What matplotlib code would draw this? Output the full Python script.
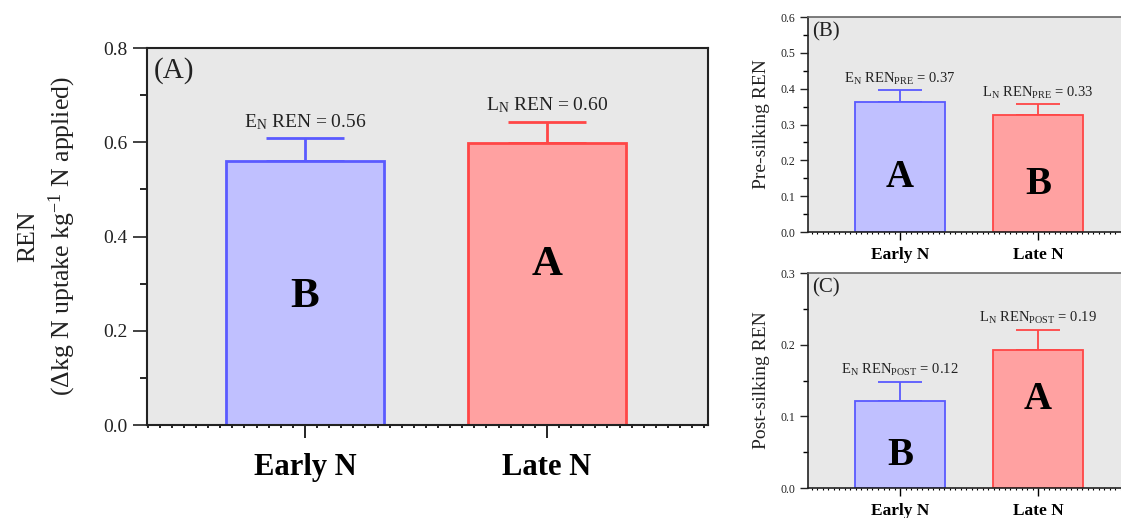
import matplotlib
matplotlib.use("Agg")
import matplotlib.pyplot as plt
from matplotlib.ticker import MultipleLocator

plt.rcParams['font.family'] = ['Liberation Serif', 'DejaVu Serif']
plt.rcParams['mathtext.fontset'] = 'custom'
plt.rcParams['mathtext.rm'] = 'Liberation Serif'
plt.rcParams['mathtext.it'] = 'Liberation Serif:italic'
plt.rcParams['mathtext.bf'] = 'Liberation Serif:bold'

# data
groups = ['Early N', 'Late N']

ren_mean = [0.560, 0.598]
ren_err = [0.049, 0.046]
ren_text = ['0.56', '0.60']
ren_letters = ['B', 'A']
ren_letter_y = [0.272, 0.34]

pre_mean = [0.364, 0.327]
pre_err = [0.032, 0.030]
pre_text = ['0.37', '0.33']
pre_letters = ['A', 'B']
pre_letter_y = [0.153, 0.134]

post_mean = [0.121, 0.193]
post_err = [0.027, 0.028]
post_text = ['0.12', '0.19']
post_letters = ['B', 'A']
post_letter_y = [0.046, 0.123]

prefix = ['E', 'L']
fills = ['#c0c0ff', '#ffa1a1']
edges = ['#5a5aff', '#ff4646']
BG = '#e8e8e8'


def draw_panel(ax, means, errs, texts, letters, letter_y, sub, tag, ylim, ymaj,
               xlim, big):
    if big:
        lw, cap, fs_ann, fs_let, fs_tag, fs_tick, fs_x = 2.0, 28, 14, 31, 21, 14, 22
        off = 8
    else:
        lw, cap, fs_ann, fs_let, fs_tag, fs_tick, fs_x = 1.3, 16, 10.5, 28, 15, 8.5, 12.5
        off = 5.5
    ax.set_facecolor(BG)
    x = list(range(len(means)))
    width = 0.655
    for i in x:
        ax.bar(i, means[i], width=width, color=fills[i], edgecolor=edges[i],
               linewidth=lw, zorder=3)
        ax.errorbar(i, means[i], yerr=[[0], [errs[i]]], color=edges[i],
                    capsize=cap, elinewidth=lw, capthick=lw, zorder=2)
        if sub:
            s = r'%s$_{\mathregular{N}}$ REN$_{\mathregular{%s}}$ = %s' % (prefix[i], sub, texts[i])
        else:
            s = r'%s$_{\mathregular{N}}$ REN = %s' % (prefix[i], texts[i])
        ax.annotate(s, (i, means[i] + errs[i]), xytext=(0, off),
                    textcoords='offset points', ha='center', va='baseline',
                    fontsize=fs_ann, color='#222222')
        ax.text(i, letter_y[i], letters[i], ha='center', va='center',
                fontsize=fs_let, fontweight='bold', zorder=4)
    ax.text(0.012, 0.975, tag, transform=ax.transAxes, ha='left', va='top',
            fontsize=fs_tag, color='#222222')
    ax.set_ylim(ylim)
    ax.set_xlim(xlim)
    ax.yaxis.set_major_locator(MultipleLocator(ymaj))
    ax.yaxis.set_minor_locator(MultipleLocator(ymaj / 2))
    ax.xaxis.set_minor_locator(MultipleLocator(0.05 if big else 0.04))
    ax.set_xticks(x)
    ax.set_xticklabels(groups, fontsize=fs_x, fontweight='bold')
    if big:
        ax.tick_params(axis='y', which='major', length=10, width=1.2, pad=4,
                       labelsize=fs_tick, colors='#222222')
        ax.tick_params(axis='y', which='minor', length=5, width=1.2)
        ax.tick_params(axis='x', which='major', length=9, width=1.2, pad=11)
        ax.tick_params(axis='x', which='minor', length=2, width=1.2)
    else:
        ax.tick_params(axis='y', which='major', length=6, width=1.0, pad=3,
                       labelsize=fs_tick, colors='#222222')
        ax.tick_params(axis='y', which='minor', length=3.5, width=1.0)
        ax.tick_params(axis='x', which='major', length=6, width=1.0, pad=5)
        ax.tick_params(axis='x', which='minor', length=1.5, width=0.8)
    for sp in ax.spines.values():
        sp.set_linewidth(1.5 if big else 1.2)
        sp.set_color('#222222')
    ax.spines['bottom'].set_zorder(5)


fig = plt.figure(figsize=(11.21, 5.18), dpi=100)

ax_a = fig.add_axes([0.1311, 0.1795, 0.5004, 0.7278])
draw_panel(ax_a, ren_mean, ren_err, ren_text, ren_letters, ren_letter_y, None,
           '(A)', (0, 0.8), 0.2, (-0.653, 1.665), True)
ax_a.set_ylabel('REN\n' + r'($\mathregular{\Delta}$kg N uptake kg$^{\mathregular{-1}}$ N applied)',
                fontsize=18.5, linespacing=1.35, labelpad=18, color='#222222')

ax_b = fig.add_axes([0.7208, 0.5521, 0.2855, 0.415])
draw_panel(ax_b, pre_mean, pre_err, pre_text, pre_letters, pre_letter_y, 'PRE',
           '(B)', (0, 0.6), 0.1, (-0.667, 1.652), False)
ax_b.set_ylabel('Pre-silking REN', fontsize=14, labelpad=8, color='#222222')
ax_b.spines['right'].set_visible(False)
ax_b.spines['top'].set_color('#666666')

ax_c = fig.add_axes([0.7208, 0.0579, 0.2855, 0.415])
draw_panel(ax_c, post_mean, post_err, post_text, post_letters, post_letter_y, 'POST',
           '(C)', (0, 0.3), 0.1, (-0.667, 1.652), False)
ax_c.set_ylabel('Post-silking REN', fontsize=14, labelpad=8, color='#222222')
ax_c.spines['right'].set_visible(False)
ax_c.spines['top'].set_color('#666666')

fig.savefig('out.png', dpi=100)
